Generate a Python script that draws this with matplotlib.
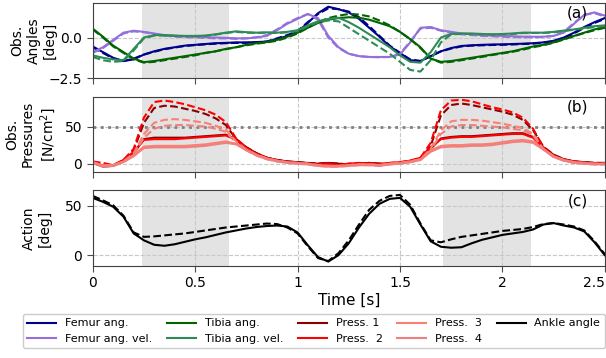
import numpy as np
import matplotlib
matplotlib.use('Agg')
import matplotlib.pyplot as plt

######## data (step 0.05 s)
time = np.linspace(0, 2.5, 51)

femur_ang = [-0.55, -0.9, -1.25, -1.45, -1.35, -1.05, -0.85, -0.7, -0.6, -0.5,
             -0.45, -0.4, -0.35, -0.33, -0.3, -0.3, -0.28, -0.25, -0.1, 0.1,
             0.35, 0.9, 1.5, 1.9, 1.75, 1.55, 1.15, 0.6, 0.05, -0.55,
             -0.95, -1.4, -1.45, -1.15, -0.85, -0.65, -0.52, -0.48, -0.45, -0.43,
             -0.42, -0.4, -0.38, -0.35, -0.3, -0.2, 0.0, 0.3, 0.65, 0.95, 1.2]
femur_ang_pred = [-0.6, -0.95, -1.3, -1.45, -1.3, -1.05, -0.88, -0.72, -0.62, -0.52,
                  -0.47, -0.42, -0.38, -0.35, -0.33, -0.33, -0.3, -0.25, -0.05, 0.15,
                  0.4, 0.95, 1.45, 1.8, 1.75, 1.6, 1.25, 0.7, 0.1, -0.5,
                  -0.95, -1.35, -1.45, -1.15, -0.85, -0.68, -0.55, -0.5, -0.48, -0.46,
                  -0.45, -0.43, -0.4, -0.38, -0.32, -0.25, -0.05, 0.25, 0.6, 0.9, 1.15]
femur_vel = [-0.9, -0.6, -0.15, 0.3, 0.42, 0.35, 0.25, 0.15, 0.1, 0.08,
             0.05, 0.02, 0.0, -0.02, -0.05, -0.05, 0.0, 0.1, 0.45, 0.85,
             1.15, 1.45, 1.2, 0.1, -0.6, -1.0, -1.15, -1.2, -1.2, -1.2,
             -1.05, -0.3, 0.6, 0.65, 0.45, 0.35, 0.25, 0.2, 0.15, 0.12,
             0.1, 0.08, 0.05, 0.05, 0.05, 0.1, 0.3, 0.85, 1.4, 1.55, 1.35]
femur_vel_pred = [-0.95, -0.65, -0.2, 0.25, 0.38, 0.33, 0.22, 0.12, 0.05, 0.02,
                  0.0, -0.02, -0.05, -0.05, -0.08, -0.05, 0.02, 0.15, 0.5, 0.9,
                  1.2, 1.45, 1.1, 0.0, -0.65, -1.0, -1.15, -1.2, -1.22, -1.2,
                  -1.0, -0.25, 0.55, 0.6, 0.42, 0.3, 0.2, 0.15, 0.1, 0.08,
                  0.05, 0.03, 0.02, 0.02, 0.03, 0.1, 0.35, 0.9, 1.4, 1.5, 1.3]
tibia_ang = [0.55, 0.05, -0.5, -0.9, -1.3, -1.52, -1.45, -1.35, -1.25, -1.15,
             -1.05, -0.95, -0.85, -0.7, -0.6, -0.45, -0.35, -0.28, -0.15, 0.05,
             0.3, 0.6, 0.9, 1.1, 1.2, 1.25, 1.22, 1.1, 0.9, 0.7,
             0.35, -0.1, -0.6, -1.3, -1.5, -1.45, -1.35, -1.25, -1.15, -1.05,
             -0.95, -0.85, -0.7, -0.55, -0.45, -0.3, -0.1, 0.1, 0.3, 0.5, 0.65]
tibia_ang_pred = [0.5, 0.0, -0.55, -0.95, -1.35, -1.55, -1.5, -1.4, -1.3, -1.2,
                  -1.1, -0.95, -0.85, -0.72, -0.6, -0.48, -0.38, -0.3, -0.2, 0.0,
                  0.25, 0.6, 0.95, 1.2, 1.35, 1.45, 1.42, 1.3, 1.05, 0.75,
                  0.35, -0.1, -0.65, -1.3, -1.55, -1.5, -1.4, -1.3, -1.2, -1.08,
                  -0.98, -0.88, -0.75, -0.6, -0.48, -0.32, -0.12, 0.08, 0.28, 0.45, 0.6]
tibia_vel = [-1.1, -1.25, -1.35, -1.4, -0.7, 0.0, 0.15, 0.15, 0.12, 0.1,
             0.1, 0.12, 0.2, 0.3, 0.38, 0.33, 0.3, 0.32, 0.3, 0.35,
             0.45, 0.75, 1.0, 1.15, 1.22, 0.95, 0.6, 0.2, -0.2, -0.6,
             -1.1, -1.5, -1.55, -0.9, 0.0, 0.22, 0.25, 0.25, 0.22, 0.2,
             0.22, 0.25, 0.3, 0.3, 0.3, 0.35, 0.43, 0.5, 0.6, 0.7, 0.75]
tibia_vel_pred = [-1.2, -1.4, -1.5, -1.45, -0.8, -0.05, 0.12, 0.12, 0.1, 0.08,
                  0.08, 0.1, 0.18, 0.28, 0.35, 0.3, 0.28, 0.3, 0.28, 0.32,
                  0.4, 0.7, 0.95, 1.05, 1.0, 0.6, 0.2, -0.2, -0.6, -1.0,
                  -1.5, -2.0, -2.1, -1.4, -0.3, 0.2, 0.22, 0.22, 0.2, 0.18,
                  0.2, 0.22, 0.28, 0.28, 0.28, 0.32, 0.4, 0.48, 0.55, 0.65, 0.7]

press1 = [1, -4, -3, 4, 14, 33, 35, 35, 35, 35, 36, 37, 38, 39, 33, 22, 14, 8, 5, 3,
          2, 1, 0, 1, 0, -1, 0, 1, 0, 0, 1, 3, 6, 20, 34, 36, 37, 37, 38, 39,
          40, 41, 41, 36, 22, 12, 6, 3, 2, 1, 1]
press2 = [3, -3, -2, 5, 16, 32, 33, 33, 33, 34, 35, 36, 37, 38, 32, 21, 13, 8, 4, 2,
          1, 0, -1, 0, -2, 0, 1, 0, -1, 1, 2, 4, 8, 22, 33, 35, 36, 36, 37, 38,
          39, 40, 40, 35, 21, 11, 5, 3, 1, 0, 0]
press3 = [2, -3, -2, 3, 12, 23, 24, 24, 24, 24, 25, 26, 28, 30, 27, 19, 12, 7, 4, 2,
          1, 0, -2, -3, -3, -2, -1, -1, -2, 0, 1, 3, 6, 18, 24, 25, 25, 26, 26, 27,
          29, 31, 32, 30, 20, 10, 5, 2, 1, 0, 0]
press4 = [1, -4, -3, 2, 10, 21, 22, 22, 22, 22, 23, 24, 26, 28, 26, 18, 11, 6, 3, 1,
          0, -1, -3, -4, -4, -3, -2, -2, -3, -1, 0, 2, 5, 16, 22, 23, 23, 24, 24, 25,
          27, 29, 30, 28, 19, 9, 4, 1, 0, -1, -1]
press1_pred = [1, 0, -3, 4, 18, 55, 75, 78, 77, 74, 71, 67, 61, 52, 33, 22, 14, 8, 5, 3,
               2, 1, 0, 1, 0, -1, 0, 1, 0, 0, 1, 3, 6, 24, 65, 79, 81, 79, 76, 73,
               70, 66, 59, 45, 23, 12, 6, 3, 2, 1, 1]
press2_pred = [3, 1, -2, 5, 20, 62, 83, 85, 83, 80, 76, 72, 66, 56, 34, 21, 13, 8, 4, 2,
               1, 0, -1, 0, -2, 0, 1, 0, -1, 1, 2, 4, 8, 28, 72, 85, 86, 84, 80, 76,
               73, 69, 62, 47, 22, 11, 5, 3, 1, 0, 0]
press3_pred = [2, -2, -2, 3, 14, 40, 55, 59, 60, 59, 57, 55, 51, 46, 30, 19, 12, 7, 4, 2,
               1, 0, -2, -3, -3, -2, -1, -1, -2, 0, 1, 3, 6, 20, 45, 57, 59, 59, 58, 56,
               54, 51, 48, 40, 20, 10, 5, 2, 1, 0, 0]
press4_pred = [1, -3, -3, 2, 12, 35, 47, 51, 52, 52, 51, 50, 47, 43, 28, 18, 11, 6, 3, 1,
               0, -1, -3, -4, -4, -3, -2, -2, -3, -1, 0, 2, 5, 18, 40, 50, 52, 52, 51, 50,
               49, 47, 45, 38, 19, 9, 4, 1, 0, -1, -1]

ankle = [58, 54, 49, 39, 22, 15, 10.5, 9.5, 11, 13.5, 16, 18, 20.5, 23, 25, 27, 28.5,
         29.5, 30, 29, 23, 10, -2, -6.5, 0, 12, 28, 42, 52, 57, 58, 49, 31, 14, 8.5,
         7.5, 8, 12, 15.5, 18, 20.5, 22, 23.5, 26, 31, 32.5, 30, 28, 24, 13, 0]
ankle_pred = [60, 55.5, 50.5, 40, 23, 18.5, 19, 20, 21, 22, 23.5, 25, 26.5, 28, 29, 30,
              31, 32, 31.5, 28, 22, 9, -3, -6, 2, 15, 31, 46, 55, 60, 61, 51, 32, 15,
              13, 16, 18.5, 20, 21.5, 23, 24.5, 25.5, 26.5, 28.5, 31.5, 32.5, 31, 29,
              25, 14, 1]

stance = [(0.24, 0.665), (1.71, 2.14)]
xticks = [0, 0.5, 1, 1.5, 2, 2.5]
xticklabels = ['0', '0.5', '1', '1.5', '2', '2.5']

######## figure
plt.rcParams['font.family'] = ['DejaVu Sans']
fig = plt.figure(figsize=(6.06, 3.58), dpi=100)
ax1 = fig.add_axes([0.153, 0.782, 0.845, 0.2105])
ax2 = fig.add_axes([0.153, 0.520, 0.845, 0.2095])
ax3 = fig.add_axes([0.153, 0.257, 0.845, 0.2123])
axs = [ax1, ax2, ax3]

lw = 1.5
ax1.plot(time, femur_ang, color='darkblue', lw=lw, label='Femur ang.')
ax1.plot(time, femur_ang_pred, '--', color='darkblue', lw=lw)
ax1.plot(time, femur_vel, color='mediumpurple', lw=lw, label='Femur ang. vel.')
ax1.plot(time, femur_vel_pred, '--', color='mediumpurple', lw=lw)
ax1.plot(time, tibia_ang, color='darkgreen', lw=lw, label='Tibia ang.')
ax1.plot(time, tibia_ang_pred, '--', color='darkgreen', lw=lw)
ax1.plot(time, tibia_vel, color='seagreen', lw=lw, label='Tibia ang. vel.')
ax1.plot(time, tibia_vel_pred, '--', color='seagreen', lw=lw)

ax2.axhline(50, color='gray', ls=':', lw=2, zorder=1)
ax2.plot(time, press1, color='darkred', lw=lw, label='Press. 1')
ax2.plot(time, press1_pred, '--', color='darkred', lw=lw)
ax2.plot(time, press2, color='red', lw=lw, label='Press.  2')
ax2.plot(time, press2_pred, '--', color='red', lw=lw)
ax2.plot(time, press3, color='salmon', lw=lw, label='Press.  3')
ax2.plot(time, press3_pred, '--', color='salmon', lw=lw)
ax2.plot(time, press4, color='lightcoral', lw=lw, label='Press.  4')
ax2.plot(time, press4_pred, '--', color='lightcoral', lw=lw)

ax3.plot(time, ankle, color='black', lw=lw, label='Ankle angle')
ax3.plot(time, ankle_pred, '--', color='black', lw=lw)

######## axes cosmetics
ylims = [(-2.5, 2.15), (-11, 90), (-11, 66)]
yticks = [[-2.5, 0.0], [0, 50], [0, 50]]
yticklabels = [['\u22122.5', '0.0'], ['0', '50'], ['0', '50']]
ylabels = ['Obs.\nAngles\n[deg]', 'Obs.\nPressures\n[N/cm$^2$]', 'Action\n[deg]']
labelx = [-0.07, -0.068, -0.08]
tags = ['(a)', '(b)', '(c)']
for i, ax in enumerate(axs):
    for a, b in stance:
        ax.axvspan(a, b, color='#e3e3e3', lw=0, zorder=0)
    ax.set_xlim(0, 2.5)
    ax.set_ylim(*ylims[i])
    ax.set_xticks(xticks)
    ax.set_yticks(yticks[i])
    ax.set_yticklabels(yticklabels[i])
    ax.grid(True, ls='--', color='#c8c8c8', lw=0.8, zorder=0)
    ax.set_axisbelow(True)
    ax.tick_params(labelsize=10, color='0.3', length=4)
    for s in ax.spines.values():
        s.set_color('0.25')
    ax.set_ylabel(ylabels[i], fontsize=10)
    ax.yaxis.set_label_coords(labelx[i], 0.5)
    ax.text(0.967, 0.86, tags[i], transform=ax.transAxes, fontsize=11,
            ha='right', va='center')
    if i < 2:
        ax.set_xticklabels([])
    else:
        ax.set_xticklabels(xticklabels)
        ax.get_xticklabels()[-1].set_ha('right')
        ax.set_xlabel('Time [s]', fontsize=11, labelpad=2)

handles = []
labels = []
for ax in axs:
    h, l = ax.get_legend_handles_labels()
    handles += h
    labels += l
fig.legend(handles, labels, loc='upper left', ncol=5, fontsize=8,
           bbox_to_anchor=(0.038, 0.0, 0.96, 0.123), mode='expand',
           handlelength=2.6, borderaxespad=0, framealpha=1, edgecolor='#cccccc')

fig.savefig('out.png', dpi=100)
